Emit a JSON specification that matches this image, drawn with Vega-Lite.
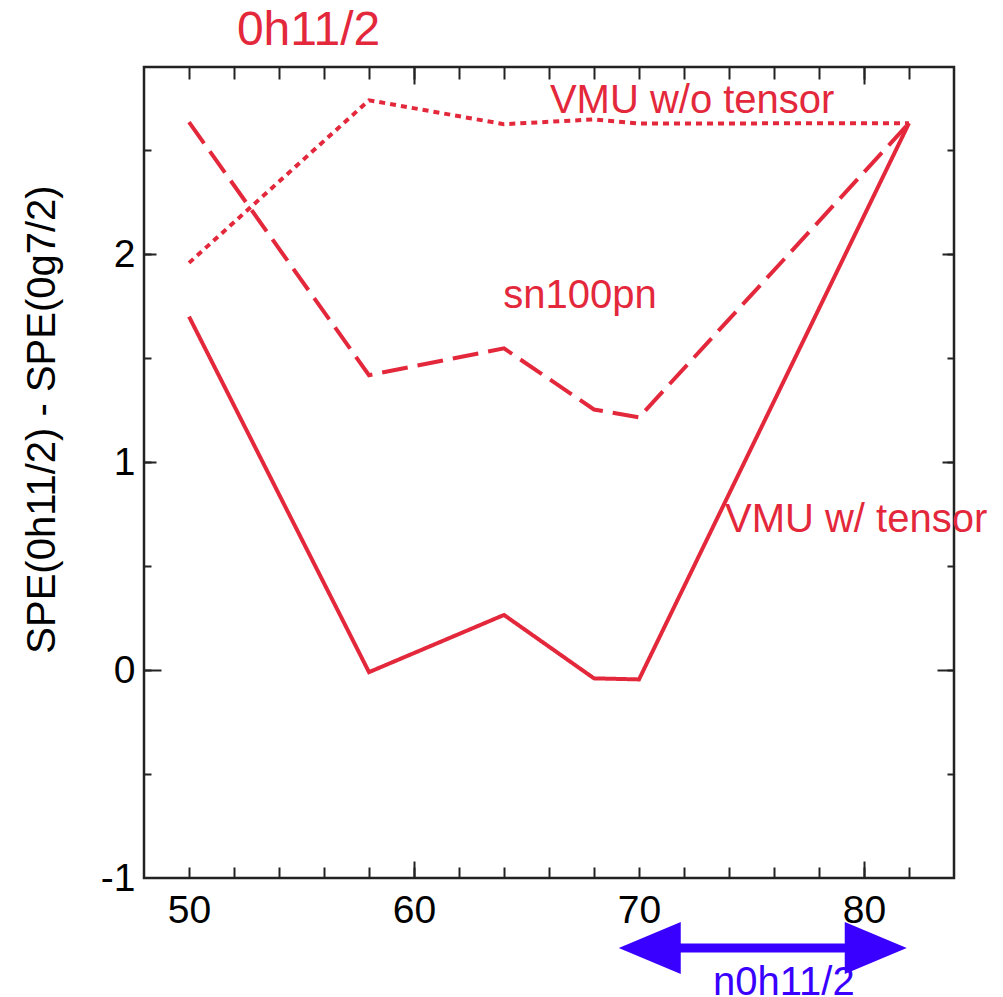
{
  "$schema": "https://vega.github.io/schema/vega-lite/v6.json",
  "width": 810,
  "height": 811,
  "autosize": {"type": "none"},
  "padding": {"left": 144, "top": 67, "right": 49, "bottom": 119},
  "background": "white",
  "config": {
    "view": {"stroke": "#222222", "strokeWidth": 2.5},
    "axis": {
      "domain": false,
      "grid": false,
      "tickColor": "#222222",
      "tickWidth": 2,
      "labelFont": "Liberation Sans",
      "labelFontSize": 39,
      "labelColor": "#000000",
      "labelOverlap": false,
      "labelFlush": false,
      "titleFont": "Liberation Sans",
      "titleFontSize": 40,
      "titleFontWeight": "normal",
      "titleColor": "#000000"
    }
  },
  "datasets": {
    "spe": [
      {"series": "VMU w/ tensor", "N": 50, "dSPE": 1.70},
      {"series": "VMU w/ tensor", "N": 58, "dSPE": -0.01},
      {"series": "VMU w/ tensor", "N": 64, "dSPE": 0.265},
      {"series": "VMU w/ tensor", "N": 68, "dSPE": -0.04},
      {"series": "VMU w/ tensor", "N": 70, "dSPE": -0.045},
      {"series": "VMU w/ tensor", "N": 82, "dSPE": 2.63},
      {"series": "sn100pn", "N": 50, "dSPE": 2.635},
      {"series": "sn100pn", "N": 58, "dSPE": 1.418},
      {"series": "sn100pn", "N": 64, "dSPE": 1.547},
      {"series": "sn100pn", "N": 68, "dSPE": 1.253},
      {"series": "sn100pn", "N": 70, "dSPE": 1.215},
      {"series": "sn100pn", "N": 82, "dSPE": 2.63},
      {"series": "VMU w/o tensor", "N": 50, "dSPE": 1.958},
      {"series": "VMU w/o tensor", "N": 58, "dSPE": 2.74},
      {"series": "VMU w/o tensor", "N": 64, "dSPE": 2.625},
      {"series": "VMU w/o tensor", "N": 68, "dSPE": 2.648},
      {"series": "VMU w/o tensor", "N": 70, "dSPE": 2.628},
      {"series": "VMU w/o tensor", "N": 82, "dSPE": 2.63}
    ],
    "labels": [
      {"label": "VMU w/o tensor", "N": 66.04, "dSPE": 2.679},
      {"label": "sn100pn", "N": 63.97, "dSPE": 1.74},
      {"label": "VMU w/ tensor", "N": 73.82, "dSPE": 0.665}
    ],
    "heading": [
      {"label": "0h11/2", "N": 52.13, "dSPE": 3.005}
    ],
    "shell": [
      {"label": "n0h11/2", "tipLeft": 69.1, "tipRight": 81.9, "shaftLeft": 70.6, "shaftRight": 80.4, "level": -1.337, "textN": 73.29, "textLevel": -1.565}
    ]
  },
  "resolve": {"axis": {"x": "independent", "y": "independent"}},
  "layer": [
    {
      "data": {"name": "spe"},
      "mark": {"type": "line", "color": "#e4283c", "strokeWidth": 4, "strokeCap": "butt", "strokeJoin": "miter"},
      "encoding": {
        "x": {
          "field": "N", "type": "quantitative",
          "scale": {"domain": [48, 84], "nice": false, "zero": false},
          "axis": {"orient": "bottom", "title": null, "ticks": false, "values": [50, 60, 70, 80], "labelPadding": 13}
        },
        "y": {
          "field": "dSPE", "type": "quantitative",
          "scale": {"domain": [-1, 2.9], "nice": false, "zero": false},
          "axis": {
            "orient": "left",
            "title": "SPE(0h11/2) - SPE(0g7/2)",
            "titleX": -90,
            "titleY": 352,
            "titleAngle": -90,
            "titleAlign": "center",
            "titleBaseline": "alphabetic",
            "ticks": false,
            "values": [-1, 0, 1, 2],
            "labelExpr": "'' + datum.value",
            "labelPadding": 9
          }
        },
        "detail": {"field": "series"},
        "strokeDash": {
          "field": "series", "type": "nominal",
          "scale": {"domain": ["VMU w/ tensor", "sn100pn", "VMU w/o tensor"], "range": [[1, 0], [26, 10], [6, 5]]},
          "legend": null
        }
      }
    },
    {
      "data": {"name": "labels"},
      "transform": [{"filter": "datum.label !== 'sn100pn'"}],
      "mark": {"type": "text", "font": "Liberation Sans", "fontSize": 40, "align": "left", "baseline": "alphabetic", "color": "#e4283c"},
      "encoding": {
        "x": {
          "field": "N", "type": "quantitative",
          "scale": {"domain": [48, 84], "nice": false, "zero": false},
          "axis": {"orient": "bottom", "title": null, "labels": false, "tickSize": -11,
                   "values": [50, 52, 54, 56, 58, 60, 62, 64, 66, 68, 70, 72, 74, 76, 78, 80, 82]}
        },
        "y": {
          "field": "dSPE", "type": "quantitative",
          "scale": {"domain": [-1, 2.9], "nice": false, "zero": false},
          "axis": {"orient": "left", "title": null, "labels": false, "tickSize": -7,
                   "values": [-0.5, 0, 0.5, 1, 1.5, 2, 2.5]}
        },
        "text": {"field": "label"}
      }
    },
    {
      "data": {"name": "labels"},
      "transform": [{"filter": "datum.label === 'sn100pn'"}],
      "mark": {"type": "text", "font": "Liberation Sans", "fontSize": 40, "align": "left", "baseline": "alphabetic", "color": "#e4283c"},
      "encoding": {
        "x": {
          "field": "N", "type": "quantitative",
          "scale": {"domain": [48, 84], "nice": false, "zero": false},
          "axis": {"orient": "bottom", "title": null, "labels": false, "tickSize": -17, "values": [60, 80]}
        },
        "y": {
          "field": "dSPE", "type": "quantitative",
          "scale": {"domain": [-1, 2.9], "nice": false, "zero": false},
          "axis": {"orient": "left", "title": null, "labels": false, "tickSize": -12, "values": [1, 2]}
        },
        "text": {"field": "label"}
      }
    },
    {
      "data": {"name": "heading"},
      "mark": {"type": "text", "font": "Liberation Sans", "fontSize": 48, "align": "left", "baseline": "alphabetic", "color": "#e4283c"},
      "encoding": {
        "x": {
          "field": "N", "type": "quantitative",
          "scale": {"domain": [48, 84], "nice": false, "zero": false},
          "axis": {"orient": "top", "title": null, "labels": false, "tickSize": -12,
                   "values": [50, 52, 54, 56, 58, 60, 62, 64, 66, 68, 70, 72, 74, 76, 78, 80, 82]}
        },
        "y": {
          "field": "dSPE", "type": "quantitative",
          "scale": {"domain": [-1, 2.9], "nice": false, "zero": false},
          "axis": {"orient": "left", "title": null, "labels": false, "tickSize": -17, "values": [0]}
        },
        "text": {"field": "label"}
      }
    },
    {
      "data": {"name": "shell"},
      "mark": {"type": "rule", "color": "#3a00ff", "strokeWidth": 9, "strokeCap": "butt"},
      "encoding": {
        "x": {
          "field": "shaftLeft", "type": "quantitative",
          "scale": {"domain": [48, 84], "nice": false, "zero": false},
          "axis": {"orient": "top", "title": null, "labels": false, "tickSize": -17, "values": [60, 80]}
        },
        "x2": {"field": "shaftRight"},
        "y": {
          "field": "level", "type": "quantitative",
          "scale": {"domain": [-1, 2.9], "nice": false, "zero": false},
          "axis": {"orient": "right", "title": null, "labels": false, "tickSize": -7,
                   "values": [-0.5, 0, 0.5, 1, 1.5, 2, 2.5]}
        }
      }
    },
    {
      "data": {"name": "shell"},
      "mark": {"type": "point", "filled": true, "color": "#3a00ff", "opacity": 1, "strokeWidth": 0, "shape": "M0,0L2,-0.84L2,0.84Z", "size": 3844},
      "encoding": {
        "x": {"field": "tipLeft", "type": "quantitative", "scale": {"domain": [48, 84], "nice": false, "zero": false}, "axis": null},
        "y": {
          "field": "level", "type": "quantitative",
          "scale": {"domain": [-1, 2.9], "nice": false, "zero": false},
          "axis": {"orient": "right", "title": null, "labels": false, "tickSize": -12, "values": [1, 2]}
        }
      }
    },
    {
      "data": {"name": "shell"},
      "mark": {"type": "point", "filled": true, "color": "#3a00ff", "opacity": 1, "strokeWidth": 0, "shape": "M0,0L-2,-0.84L-2,0.84Z", "size": 3844},
      "encoding": {
        "x": {"field": "tipRight", "type": "quantitative", "scale": {"domain": [48, 84], "nice": false, "zero": false}, "axis": null},
        "y": {
          "field": "level", "type": "quantitative",
          "scale": {"domain": [-1, 2.9], "nice": false, "zero": false},
          "axis": {"orient": "right", "title": null, "labels": false, "tickSize": -17, "values": [0]}
        }
      }
    },
    {
      "data": {"name": "shell"},
      "mark": {"type": "text", "font": "Liberation Sans", "fontSize": 40, "align": "left", "baseline": "alphabetic", "color": "#3a00ff"},
      "encoding": {
        "x": {"field": "textN", "type": "quantitative", "scale": {"domain": [48, 84], "nice": false, "zero": false}, "axis": null},
        "y": {"field": "textLevel", "type": "quantitative", "scale": {"domain": [-1, 2.9], "nice": false, "zero": false}, "axis": null},
        "text": {"field": "label"}
      }
    }
  ]
}
